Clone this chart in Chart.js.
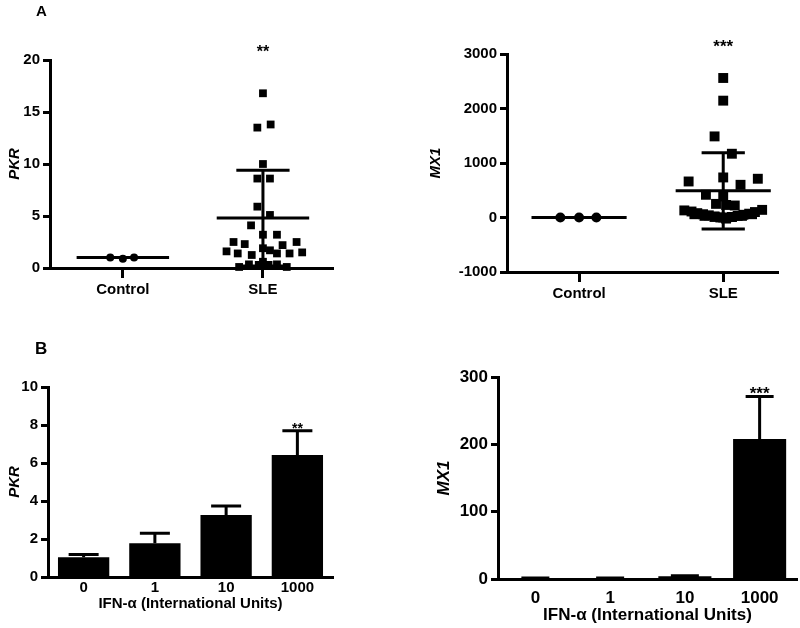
<!DOCTYPE html>
<html>
<head>
<meta charset="utf-8">
<script src="https://cdn.jsdelivr.net/npm/chart.js@4.4.1/dist/chart.umd.min.js"></script>
<style>
  body { margin: 0; background: #fff; }
  #wrap { position: relative; width: 800px; height: 628px; }
  .box { position: absolute; }
  .tag { position: absolute; font-family: "Liberation Sans", Arial, sans-serif; font-weight: bold; color: #000; }
</style>
</head>
<body>
<div id="wrap">
  <div class="box" style="left:0;top:0"><canvas id="pkrScatter" width="400" height="314"></canvas></div>
  <div class="box" style="left:400px;top:0"><canvas id="mx1Scatter" width="400" height="314"></canvas></div>
  <div class="box" style="left:0;top:314px"><canvas id="pkrBars" width="400" height="314"></canvas></div>
  <div class="box" style="left:400px;top:314px"><canvas id="mx1Bars" width="400" height="314"></canvas></div>
  <div class="tag" style="left:36px;top:2px;font-size:15px">A</div>
  <div class="tag" style="left:35px;top:339px;font-size:17px">B</div>
</div>
<script>
// --- panel A: patients ---
const groups = ['Control', 'SLE'];
const groupStars = { pkr: ['', '**'], mx1: ['', '***'] };

const pkrControl = [1.0, 0.9, 1.0];
const pkrControlJitter = [-0.09, 0, 0.08];
const pkrSle = [16.8, 13.5, 13.8, 10.0, 8.6, 8.6, 5.9, 5.1, 4.1, 3.2, 3.2, 2.5, 2.5, 2.3, 2.2,
                1.6, 1.5, 1.4, 1.4, 1.9, 1.7, 1.25, 1.4, 0.6, 0.35, 0.3, 0.3, 0.35, 0.1, 0.1];
const pkrSleJitter = [0, -0.04, 0.055, 0, -0.04, 0.05, -0.04, 0.05, -0.085, 0, 0.1, -0.21, 0.24, -0.13, 0.14,
                      -0.26, 0.28, -0.18, 0.19, 0, 0.05, -0.08, 0.1, 0, -0.1, -0.03, 0.04, 0.1, -0.17, 0.17];
const pkrMean = [1.0, 4.8];
const pkrSd = [0, 4.6];

const mx1Control = [0, 0, 0];
const mx1ControlJitter = [-0.13, 0, 0.12];
const mx1Sle = [2560, 2144, 1488, 1170, 735, 711, 661, 600, 417, 386,
                250, 230, 220,
                130, 110, 80, 60, 40, 20, 0, -20, -10, 10, 30, 50, 70, 100, 140,
                60, 30, 10, 0, 10, 30, 60];
const mx1SleJitter = [0, 0, -0.06, 0.06, 0, 0.24, -0.24, 0.12, -0.12, 0,
                      -0.05, 0.02, 0.08,
                      -0.27, -0.22, -0.18, -0.14, -0.1, -0.06, -0.02, 0.02, 0.02, 0.06, 0.1, 0.14, 0.18, 0.22, 0.27,
                      -0.2, -0.13, -0.06, 0, 0.06, 0.13, 0.2];
const mx1Mean = [0, 490];
const mx1Sd = [0, 700];

// --- panel B: IFN-alpha dose ---
const doses = ['0', '1', '10', '1000'];
const pkrDose = [1.04, 1.77, 3.26, 6.42];
const pkrDoseErr = [0.15, 0.53, 0.48, 1.28];
const pkrDoseStars = ['', '', '', '**'];
const mx1Dose = [1, 1, 4, 208];
const mx1DoseErr = [0.3, 0.3, 1, 63];
const mx1DoseStars = ['', '', '', '***'];

Chart.defaults.font.family = '"Liberation Sans", Arial, sans-serif';
Chart.defaults.font.weight = 'bold';
Chart.defaults.color = '#000';

const ink = '#000';

// error bars (bars) and significance stars, placed through the chart scales
const markPlugin = {
  id: 'marks',
  afterDatasetsDraw(chart, args, opts) {
    const ctx = chart.ctx;
    const y = chart.scales.y;
    ctx.save();
    ctx.strokeStyle = ink;
    ctx.fillStyle = ink;
    ctx.lineWidth = 3;
    ctx.textAlign = 'center';
    ctx.textBaseline = 'alphabetic';
    ctx.font = 'bold ' + opts.starSize + 'px "Liberation Sans", Arial, sans-serif';
    if (opts.errors) {
      const meta = chart.getDatasetMeta(0);
      const vals = chart.data.datasets[0].data;
      meta.data.forEach((bar, i) => {
        const y0 = y.getPixelForValue(vals[i]);
        const y1 = y.getPixelForValue(vals[i] + opts.errors[i]);
        ctx.beginPath();
        ctx.moveTo(bar.x, y0);
        ctx.lineTo(bar.x, y1);
        ctx.moveTo(bar.x - opts.cap, y1);
        ctx.lineTo(bar.x + opts.cap, y1);
        ctx.stroke();
        if (opts.stars[i]) ctx.fillText(opts.stars[i], bar.x, y1 + 2);
      });
    } else {
      const x = chart.scales.x;
      opts.stars.forEach((s, i) => {
        if (s) ctx.fillText(s, x.getPixelForValue(i + 1), chart.chartArea.top - 12 + opts.starSize * 0.57);
      });
    }
    ctx.restore();
  }
};

function statLines(means, sds, halfMean, halfCap) {
  const pts = [];
  means.forEach((m, i) => {
    const c = i + 1;
    pts.push({ x: c - halfMean, y: m }, { x: c + halfMean, y: m }, { x: c + halfMean, y: null });
    if (sds[i] > 0) {
      pts.push({ x: c, y: m - sds[i] }, { x: c, y: m + sds[i] }, { x: c, y: null });
      pts.push({ x: c - halfCap, y: m + sds[i] }, { x: c + halfCap, y: m + sds[i] }, { x: c, y: null });
      pts.push({ x: c - halfCap, y: m - sds[i] }, { x: c + halfCap, y: m - sds[i] }, { x: c, y: null });
    }
  });
  return pts;
}

function jittered(vals, jit, group) {
  return vals.map((v, i) => ({ x: group + jit[i], y: v }));
}

function yAxis(cfg) {
  return {
    min: cfg.min, max: cfg.max,
    border: { display: true, color: ink, width: 3 },
    grid: { drawOnChartArea: false, drawTicks: true, tickLength: 7, tickWidth: 3, tickColor: ink },
    ticks: { stepSize: cfg.step, padding: 3, font: { size: cfg.font }, color: ink,
             callback: (v) => String(v) },
    title: { display: true, text: cfg.title, padding: 0, color: ink,
             font: { size: cfg.font, style: 'italic', weight: 'bold' } },
    afterFit: (s) => { s.width = cfg.width; }
  };
}

function scatterChart(id, c) {
  return new Chart(document.getElementById(id), {
    type: 'scatter',
    data: {
      datasets: [
        { type: 'line', data: statLines(c.mean, c.sd, c.halfMean, c.halfCap), showLine: true,
          borderColor: ink, borderWidth: 3, pointRadius: 0, spanGaps: false, clip: false },
        { data: jittered(c.control, c.controlJitter, 1), pointStyle: 'circle', pointRadius: c.circleR,
          backgroundColor: ink, borderColor: ink, borderWidth: 0, clip: false },
        { data: jittered(c.sle, c.sleJitter, 2), pointStyle: 'rect', pointRadius: c.rectR,
          backgroundColor: ink, borderColor: ink, borderWidth: 0, clip: false }
      ]
    },
    options: {
      responsive: false,
      animation: false,
      layout: { padding: c.pad },
      plugins: { legend: { display: false }, tooltip: { enabled: false },
                 marks: { stars: c.stars, starSize: c.starSize } },
      scales: {
        x: {
          type: 'linear', min: c.xMin, max: c.xMax,
          border: { display: true, color: ink, width: 3 },
          grid: { drawOnChartArea: false, drawTicks: true, tickLength: 10, tickWidth: 3, tickColor: ink },
          ticks: { padding: 3, font: { size: 15 }, color: ink, autoSkip: false,
                   callback: (v) => groups[v - 1] },
          afterBuildTicks: (s) => { s.ticks = groups.map((g, i) => ({ value: i + 1 })); },
          afterFit: (s) => { s.height = c.xHeight; }
        },
        y: yAxis(c.y)
      }
    },
    plugins: [markPlugin]
  });
}

function barChart(id, c) {
  return new Chart(document.getElementById(id), {
    type: 'bar',
    data: {
      labels: doses,
      datasets: [{ data: c.values, backgroundColor: ink, borderWidth: 0,
                   categoryPercentage: 1, barPercentage: c.barPct }]
    },
    options: {
      responsive: false,
      animation: false,
      layout: { padding: c.pad },
      plugins: { legend: { display: false }, tooltip: { enabled: false },
                 marks: { errors: c.errors, stars: c.stars, starSize: c.starSize, cap: c.cap } },
      scales: {
        x: {
          border: { display: true, color: ink, width: 3 },
          grid: { display: false, drawTicks: false },
          ticks: { padding: c.tickPad, font: { size: c.font }, color: ink },
          title: { display: true, text: 'IFN-α (International Units)', padding: 0, color: ink,
                   font: { size: c.font, weight: 'bold' } },
          afterFit: (s) => { s.height = c.xHeight; }
        },
        y: yAxis(c.y)
      }
    },
    plugins: [markPlugin]
  });
}

scatterChart('pkrScatter', {
  control: pkrControl, controlJitter: pkrControlJitter, sle: pkrSle, sleJitter: pkrSleJitter,
  mean: pkrMean, sd: pkrSd, halfMean: 0.33, halfCap: 0.19, stars: groupStars.pkr, starSize: 16,
  circleR: 4, rectR: 5.5, xMin: 0.48, xMax: 2.5, xHeight: 46,
  pad: { left: 6, top: 60, right: 67, bottom: 0 },
  y: { min: 0, max: 20, step: 5, font: 15, title: 'PKR', width: 44 }
});

scatterChart('mx1Scatter', {
  control: mx1Control, controlJitter: mx1ControlJitter, sle: mx1Sle, sleJitter: mx1SleJitter,
  mean: mx1Mean, sd: mx1Sd, halfMean: 0.33, halfCap: 0.15, stars: groupStars.mx1, starSize: 17,
  circleR: 5, rectR: 7, xMin: 0.5, xMax: 2.38, xHeight: 42,
  pad: { left: 27, top: 54, right: 22, bottom: 0 },
  y: { min: -1000, max: 3000, step: 1000, font: 15, title: 'MX1', width: 80 }
});

barChart('pkrBars', {
  values: pkrDose, errors: pkrDoseErr, stars: pkrDoseStars, starSize: 14, cap: 15,
  barPct: 0.72, font: 15, tickPad: 2, xHeight: 36,
  pad: { left: 6, top: 73, right: 67, bottom: 15 },
  y: { min: 0, max: 10, step: 2, font: 15, title: 'PKR', width: 42 }
});

barChart('mx1Bars', {
  values: mx1Dose, errors: mx1DoseErr, stars: mx1DoseStars, starSize: 17, cap: 14,
  barPct: 0.71, font: 17, tickPad: 9, xHeight: 47,
  pad: { left: 34, top: 63, right: 3, bottom: 2 },
  y: { min: 0, max: 300, step: 100, font: 17, title: 'MX1', width: 64 }
});
</script>
</body>
</html>
